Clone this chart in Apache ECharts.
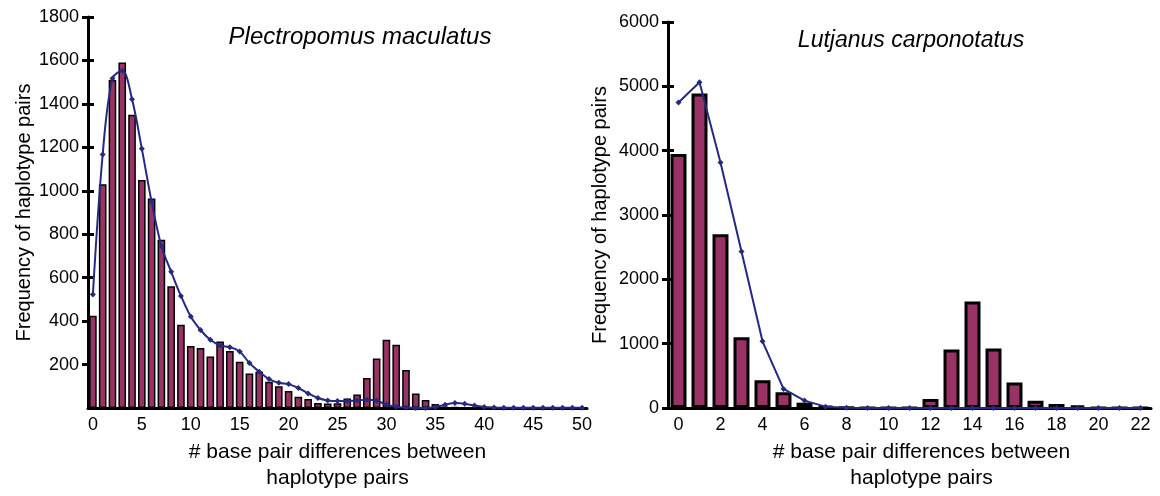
<!DOCTYPE html>
<html>
<head>
<meta charset="utf-8">
<script src="https://cdn.jsdelivr.net/npm/echarts@6/dist/echarts.min.js"></script>
<style>
  html, body { margin: 0; padding: 0; background: #ffffff; }
  #chart { width: 1160px; height: 496px; }
</style>
</head>
<body>
<div id="chart"></div>
<script>
// ---- Data: Plectropomus maculatus (left) ----
const leftCategories = [];
for (let i = 0; i <= 50; i++) leftCategories.push(String(i));
const leftObserved = [425, 1030, 1510, 1590, 1350, 1050, 965, 775, 560, 383,
  285, 276, 237, 306, 262, 213, 159, 167, 121, 100,
  78, 52, 41, 23, 21, 22, 44, 62, 138, 228,
  314, 291, 175, 67, 37, 18, 6, 4, 3, 2,
  2, 1, 1, 1, 0, 0, 0, 0, 0, 0, 0];
const leftExpected = [523, 1167, 1517, 1552, 1421, 1194, 950, 746, 627, 516,
  421, 359, 314, 288, 280, 260, 207, 167, 133, 116,
  110, 92, 67, 46, 35, 32, 32, 35, 38, 34,
  15, 6, 2, 0, 0, 5, 15, 23, 20, 11,
  5, 2, 1, 1, 1, 1, 1, 1, 1, 1, 1];

// ---- Data: Lutjanus carponotatus (right) ----
const rightCategories = [];
for (let i = 0; i <= 22; i++) rightCategories.push(String(i));
const rightObserved = [3950, 4890, 2700, 1100, 432, 245, 83, 31, 5, 0,
  0, 0, 138, 910, 1654, 925, 398, 114, 62, 36,
  0, 0, 0];
const rightExpected = [4750, 5062, 3816, 2432, 1036, 297, 115, 21, 2, 0,
  0, 0, 0, 0, 0, 0, 0, 0, 0, 0,
  0, 0, 0];

const leftTitle = 'Plectropomus maculatus';
const rightTitle = 'Lutjanus carponotatus';
const yName = 'Frequency of haplotype pairs';
const xName = '# base pair differences between\nhaplotype pairs';

const FONT = '"Liberation Sans", Arial, sans-serif';
const BAR_FILL = '#993366';
const LINE_COLOR = '#252a80';

const chart = echarts.init(document.getElementById('chart'), null, { renderer: 'canvas' });

function xAxisCfg(gridIndex, cats, labelInterval, padLeft) {
  return {
    type: 'category', gridIndex: gridIndex, data: cats,
    boundaryGap: true,
    axisLine: { lineStyle: { color: '#000', width: 3 } },
    axisTick: { show: false },
    axisLabel: { interval: labelInterval, color: '#000', fontSize: 18, fontFamily: FONT, margin: 8 },
    name: xName, nameLocation: 'middle', nameGap: 31,
    nameTextStyle: { color: '#000', fontSize: 21, fontFamily: FONT, lineHeight: 26, padding: [0, 0, 0, padLeft] }
  };
}
function yAxisMain(gridIndex, max, interval, showMin, gap) {
  return {
    type: 'value', gridIndex: gridIndex, min: 0, max: max, interval: interval,
    axisLine: { show: true, lineStyle: { color: '#000', width: 3 } },
    axisTick: { show: true, length: 6, lineStyle: { color: '#000', width: 3 } },
    splitLine: { show: false },
    axisLabel: { color: '#000', fontSize: 18, fontFamily: FONT, margin: 9, showMinLabel: showMin,
      formatter: function (v) { return String(v); } },
    name: yName, nameLocation: 'middle', nameGap: gap, nameRotate: 90,
    nameTextStyle: { color: '#000', fontSize: 20, fontFamily: FONT }
  };
}
function yAxisInner(gridIndex, max, interval) {
  return {
    type: 'value', gridIndex: gridIndex, min: 0, max: max, interval: interval, position: 'left',
    axisLine: { show: false },
    axisTick: { show: true, inside: true, length: 6, lineStyle: { color: '#000', width: 3 } },
    splitLine: { show: false },
    axisLabel: { show: false }
  };
}

const option = {
  animation: false,
  backgroundColor: '#ffffff',
  title: [
    { text: leftTitle, left: 355, top: 20, textAlign: 'center',
      textStyle: { fontFamily: FONT, fontStyle: 'italic', fontWeight: 'normal', fontSize: 24, color: '#000' } },
    { text: rightTitle, left: 906, top: 24, textAlign: 'center',
      textStyle: { fontFamily: FONT, fontStyle: 'italic', fontWeight: 'normal', fontSize: 23, color: '#000' } }
  ],
  grid: [
    { left: 88, top: 17, width: 499, height: 392 },
    { left: 668, top: 22, width: 483, height: 387 }
  ],
  xAxis: [
    xAxisCfg(0, leftCategories, 4, 0),
    xAxisCfg(1, rightCategories, 1, 24)
  ],
  yAxis: [
    yAxisMain(0, 1800, 200, false, 54),
    yAxisInner(0, 1800, 200),
    yAxisMain(1, 6000, 1000, true, 58),
    yAxisInner(1, 6000, 1000)
  ],
  series: [
    { type: 'bar', xAxisIndex: 0, yAxisIndex: 0, data: leftObserved, barCategoryGap: '22%',
      itemStyle: { color: BAR_FILL, borderColor: '#000', borderWidth: 1.5 } },
    { type: 'line', xAxisIndex: 0, yAxisIndex: 0, data: leftExpected, smooth: 0.35,
      symbol: 'diamond', symbolSize: 6, z: 5,
      lineStyle: { color: LINE_COLOR, width: 2 }, itemStyle: { color: LINE_COLOR } },
    { type: 'bar', xAxisIndex: 1, yAxisIndex: 2, data: rightObserved, barCategoryGap: '24%',
      itemStyle: { color: BAR_FILL, borderColor: '#000', borderWidth: 3 } },
    { type: 'line', xAxisIndex: 1, yAxisIndex: 2, data: rightExpected, smooth: false,
      symbol: 'diamond', symbolSize: 6, z: 5,
      lineStyle: { color: LINE_COLOR, width: 2 }, itemStyle: { color: LINE_COLOR } }
  ]
};
chart.setOption(option);
</script>
</body>
</html>
